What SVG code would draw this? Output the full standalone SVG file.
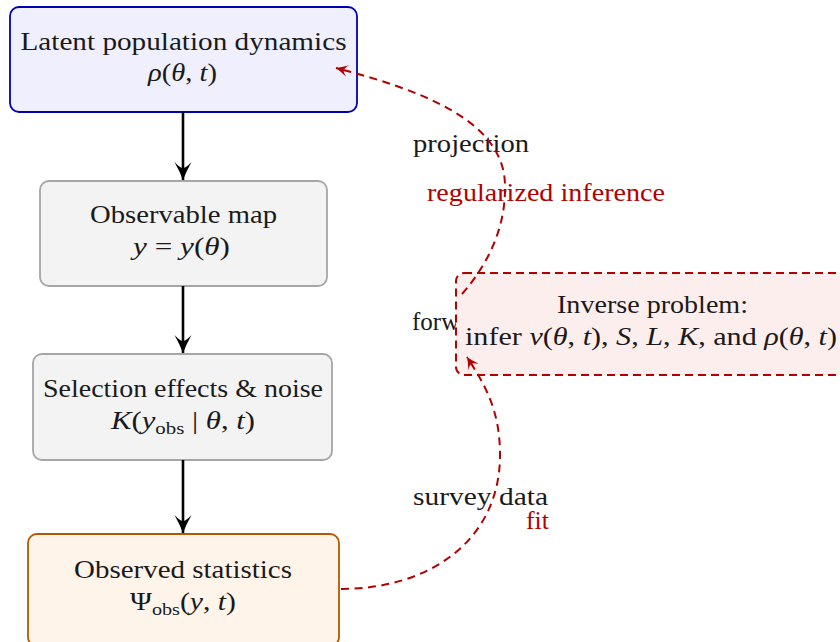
<svg xmlns="http://www.w3.org/2000/svg" width="840" height="642" viewBox="0 0 840 642">
<style>
  text { font-family: "Liberation Serif", "Times New Roman", serif; font-size: 25px; fill: #1a1a1a; }
  .it { font-style: italic; }
  .sub { font-size: 17px; }
  .red { fill: #b30000; }
  .box { stroke-width: 1.8; }
  .blue { fill: #efeffd; stroke: #0000b3; }
  .gray { fill: #f3f3f3; stroke: #a6a6a6; }
  .orange { fill: #fff4ea; stroke: #b35900; }
  .inv { fill: #fdeeee; stroke: #b30000; stroke-width: 2; stroke-dasharray: 8 5; }
  .flow { stroke: #000; stroke-width: 2.6; fill: none; marker-end: url(#ah); }
  .dash { stroke: #b30000; stroke-width: 2; fill: none; stroke-dasharray: 8 5.5; marker-end: url(#ahr); }
</style>
<defs>
  <marker id="ah" markerUnits="userSpaceOnUse" viewBox="-20 -10 22 20" refX="0" refY="0" markerWidth="22" markerHeight="20" orient="auto">
    <path d="M0,0 Q-8,-3 -18,-8.5 Q-12,-3 -12,0 Q-12,3 -18,8.5 Q-8,3 0,0 Z" fill="#000"/>
  </marker>
  <marker id="ahr" markerUnits="userSpaceOnUse" viewBox="-14 -8 16 16" refX="0" refY="0" markerWidth="16" markerHeight="16" orient="auto">
    <path d="M0,0 Q-5,-2 -12,-6 Q-8,-2 -8,0 Q-8,2 -12,6 Q-5,2 0,0 Z" fill="#b30000"/>
  </marker>
</defs>

<g id="node-latent">
  <rect class="box blue" x="10" y="7" width="347" height="105" rx="9"/>
  <text x="183.5" y="50" text-anchor="middle" textLength="326" lengthAdjust="spacingAndGlyphs">Latent population dynamics</text>
  <text x="182.5" y="81" text-anchor="middle" textLength="69" lengthAdjust="spacingAndGlyphs"><tspan class="it">ρ</tspan>(<tspan class="it">θ</tspan>, <tspan class="it">t</tspan>)</text>
</g>

<g id="node-observable">
  <rect class="box gray" x="40" y="181" width="287" height="105" rx="9"/>
  <text x="183.5" y="223" text-anchor="middle" textLength="187" lengthAdjust="spacingAndGlyphs">Observable map</text>
  <text x="181.5" y="255" text-anchor="middle" textLength="97" lengthAdjust="spacingAndGlyphs"><tspan class="it">y</tspan> = <tspan class="it">y</tspan>(<tspan class="it">θ</tspan>)</text>
</g>

<g id="node-selection">
  <rect class="box gray" x="33" y="354" width="299" height="106" rx="9"/>
  <text x="183" y="397" text-anchor="middle" textLength="280" lengthAdjust="spacingAndGlyphs">Selection effects &amp; noise</text>
  <text x="183" y="429" text-anchor="middle" textLength="144" lengthAdjust="spacingAndGlyphs"><tspan class="it">K</tspan>(<tspan class="it">y</tspan><tspan class="sub" dy="5">obs</tspan><tspan dy="-5"> | </tspan><tspan class="it">θ</tspan>, <tspan class="it">t</tspan>)</text>
</g>

<g id="node-observed">
  <rect class="box orange" x="28" y="534" width="311" height="112" rx="9"/>
  <text x="183" y="578" text-anchor="middle" textLength="218" lengthAdjust="spacingAndGlyphs">Observed statistics</text>
  <text x="183" y="610" text-anchor="middle" textLength="106" lengthAdjust="spacingAndGlyphs">Ψ<tspan class="sub" dy="5">obs</tspan><tspan dy="-5">(</tspan><tspan class="it">y</tspan>, <tspan class="it">t</tspan>)</text>
</g>

<g id="labels">
  <text x="413" y="152" textLength="116" lengthAdjust="spacingAndGlyphs">projection</text>
  <text class="red" x="427" y="201" textLength="238" lengthAdjust="spacingAndGlyphs">regularized inference</text>
  <text x="412" y="330">forw</text>
  <text x="413" y="505" textLength="135" lengthAdjust="spacingAndGlyphs">survey data</text>
  <text class="red" x="549" y="529" text-anchor="end" textLength="23" lengthAdjust="spacingAndGlyphs">fit</text>
</g>

<g id="node-inverse">
  <rect class="inv" x="456" y="273" width="400" height="102" rx="8"/>
  <text x="652.5" y="313" text-anchor="middle" textLength="191" lengthAdjust="spacingAndGlyphs">Inverse problem:</text>
  <text x="651" y="345" text-anchor="middle" textLength="372" lengthAdjust="spacingAndGlyphs">infer <tspan class="it">v</tspan>(<tspan class="it">θ</tspan>, <tspan class="it">t</tspan>), <tspan class="it">S</tspan>, <tspan class="it">L</tspan>, <tspan class="it">K</tspan>, and <tspan class="it">ρ</tspan>(<tspan class="it">θ</tspan>, <tspan class="it">t</tspan>)</text>
</g>

<g id="connectors">
  <path class="flow" d="M183,112 L183,180"/>
  <path class="flow" d="M183,286 L183,353"/>
  <path class="flow" d="M183,460 L183,533"/>
  <path class="dash" d="M462,294 C490,262 506,225 505,185 C504,120 420,90 336,68"/>
  <path class="dash" d="M341,589 C430,589 500,540 500,455 C500,410 485,385 467,357"/>
</g>
</svg>
